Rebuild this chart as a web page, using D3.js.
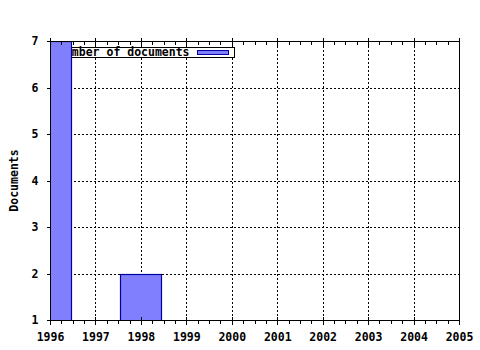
<!DOCTYPE html>
<html>
<head>
<meta charset="utf-8">
<script src="https://cdn.jsdelivr.net/npm/d3@7"></script>
<style>
  body { margin: 0; background: #fff; }
  text { font-family: "DejaVu Sans Mono", monospace; font-weight: bold; font-size: 11.5px; fill: #000; }
</style>
</head>
<body>
<div id="chart"></div>
<script>
const years = [1996, 1998]
const documents = [7, 2]
const yearTicks = [1996, 1997, 1998, 1999, 2000, 2001, 2002, 2003, 2004, 2005]
const docTicks = [1, 2, 3, 4, 5, 6, 7]
const seriesName = 'Number of documents'
const yLabel = 'Documents'

const width = 480
const height = 350
const margin = { top: 41, right: 21, bottom: 30, left: 50 }

const svg = d3.select('#chart')
  .append('svg')
  .attr('width', width)
  .attr('height', height)

const x = d3.scaleLinear()
  .domain([1996, 2005])
  .range([margin.left, width - margin.right])

const y = d3.scaleLinear()
  .domain([1, 7])
  .range([height - margin.bottom, margin.top])

const plotW = width - margin.right - margin.left
const plotH = height - margin.bottom - margin.top

svg.append('clipPath').attr('id', 'clip')
  .append('rect')
  .attr('x', margin.left).attr('y', margin.top)
  .attr('width', plotW).attr('height', plotH)

// grid
const grid = svg.append('g')
  .attr('stroke', '#000')
  .attr('stroke-dasharray', '2,2')
  .attr('shape-rendering', 'crispEdges')

grid.selectAll('line.v')
  .data(yearTicks.slice(1, -1))
  .enter().append('line')
  .attr('x1', d => Math.round(x(d)) + 0.5).attr('x2', d => Math.round(x(d)) + 0.5)
  .attr('y1', y(1)).attr('y2', y(7))

grid.selectAll('line.h')
  .data(docTicks.slice(1, -1))
  .enter().append('line')
  .attr('y1', d => Math.round(y(d)) + 0.5).attr('y2', d => Math.round(y(d)) + 0.5)
  .attr('x1', x(1996)).attr('x2', x(2005))

// legend (drawn under the bars)
const legend = svg.append('g')
legend.append('rect')
  .attr('x', margin.left + 2.5).attr('y', margin.top + 6.5)
  .attr('width', 182).attr('height', 10)
  .attr('fill', '#fff').attr('stroke', '#000')
legend.append('text')
  .attr('x', margin.left + 8).attr('y', margin.top + 15)
  .text(seriesName)
legend.append('rect')
  .attr('x', margin.left + 147.5).attr('y', margin.top + 9.5)
  .attr('width', 31).attr('height', 4)
  .attr('fill', '#8080ff').attr('stroke', '#0000a0')

// bars
const barW = x(1996.9) - x(1996)
svg.append('g')
  .attr('clip-path', 'url(#clip)')
  .selectAll('rect')
  .data(years.map((d, i) => ({ year: d, value: documents[i] })))
  .enter().append('rect')
  .attr('x', d => Math.round(x(d.year) - barW / 2) + 0.5)
  .attr('y', d => Math.round(y(d.value)) + 0.5)
  .attr('width', Math.round(barW))
  .attr('height', d => y(1) - Math.round(y(d.value)) + 1)
  .attr('fill', '#8080ff')
  .attr('stroke', '#0000a0')
  .attr('stroke-width', 1.2)

// frame
svg.append('rect')
  .attr('x', margin.left + 0.5).attr('y', margin.top + 0.5)
  .attr('width', plotW).attr('height', plotH)
  .attr('fill', 'none').attr('stroke', '#000')
  .attr('shape-rendering', 'crispEdges')

// axes
const minor = d3.range(1996, 2005.01, 0.25)
const bottomAxis = svg.append('g')
  .attr('transform', `translate(0,${height - margin.bottom + 0.5})`)
  .call(d3.axisBottom(x).tickValues(yearTicks).tickFormat(d3.format('d')).tickSize(4).tickPadding(8))
bottomAxis.select('.domain').remove()
bottomAxis.selectAll('.tick line').attr('y1', -4)
bottomAxis.selectAll('text').style('font-size', '11.5px').style('font-family', '"DejaVu Sans Mono", monospace').style('font-weight', 'bold')

const bottomMinor = svg.append('g')
  .attr('transform', `translate(0,${height - margin.bottom + 0.5})`)
  .call(d3.axisBottom(x).tickValues(minor).tickFormat('').tickSize(3))
bottomMinor.select('.domain').remove()

const topMinor = svg.append('g')
  .attr('transform', `translate(0,${margin.top + 0.5})`)
  .call(d3.axisTop(x).tickValues(minor).tickFormat('').tickSize(3))
topMinor.select('.domain').remove()
topMinor.selectAll('.tick line').attr('y1', 3).attr('y2', 0)
const topMajor = svg.append('g')
  .attr('transform', `translate(0,${margin.top + 0.5})`)
  .call(d3.axisTop(x).tickValues(yearTicks).tickFormat('').tickSize(4))
topMajor.select('.domain').remove()
topMajor.selectAll('.tick line').attr('y1', 4)

const leftAxis = svg.append('g')
  .attr('transform', `translate(${margin.left + 0.5},0)`)
  .call(d3.axisLeft(y).tickValues(docTicks).tickFormat(d3.format('d')).tickSize(4).tickPadding(8))
leftAxis.select('.domain').remove()
leftAxis.selectAll('text').style('font-size', '11.5px').style('font-family', '"DejaVu Sans Mono", monospace').style('font-weight', 'bold')

svg.selectAll('.tick line').attr('shape-rendering', 'crispEdges')

svg.append('text')
  .attr('transform', `translate(18,${margin.top + plotH / 2}) rotate(-90)`)
  .attr('text-anchor', 'middle')
  .text(yLabel)
</script>
</body>
</html>
